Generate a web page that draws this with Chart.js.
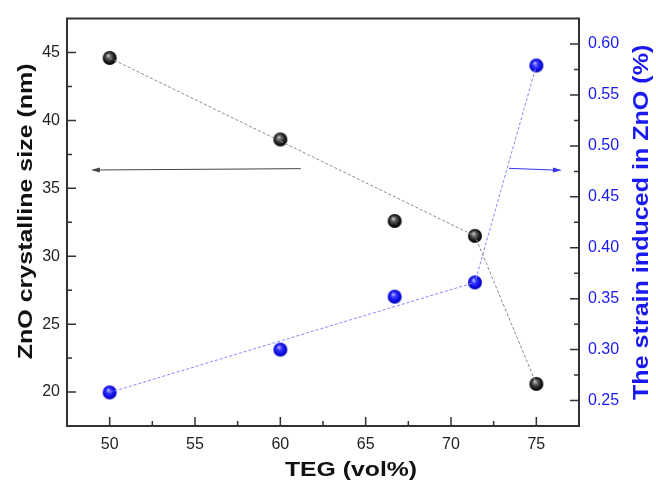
<!DOCTYPE html>
<html>
<head>
<meta charset="utf-8">
<script src="https://cdn.jsdelivr.net/npm/chart.js@4/dist/chart.umd.min.js"></script>
<style>
  body { margin: 0; background: #fff; }
</style>
</head>
<body>
<canvas id="myChart" width="656" height="483"></canvas>
<script>
// data
const tegVol = [50, 60, 66.7, 71.4, 75];
const crystalSize = [44.6, 38.6, 32.6, 31.5, 20.6];
const strain = [0.258, 0.3, 0.352, 0.366, 0.579];
// the dashed guide lines only join these points (by index)
const guidePoints = [0, 3, 4];

const xTicks = [50, 55, 60, 65, 70, 75];
const xMinor = [52.5, 57.5, 62.5, 67.5, 72.5];
const sizeTicks = [20, 25, 30, 35, 40, 45];
const sizeMinor = [22.5, 27.5, 32.5, 37.5, 42.5];
const strainTicks = [0.25, 0.3, 0.35, 0.4, 0.45, 0.5, 0.55, 0.6];
const strainMinor = [0.275, 0.325, 0.375, 0.425, 0.475, 0.525, 0.575];

// arrows, in data units: [x, y] on the axis they point to
const sizeArrow = { from: [61.2, 36.45], to: [48.9, 36.35] };
const strainArrow = { from: [73.4, 0.478], to: [76.5, 0.476] };

const FONT = "'Liberation Sans', Arial, sans-serif";
const BLUE = "#1a1af0";

function makeBall(c0, c1, c2, c3) {
  let cv = document.createElement("canvas");
  cv.width = 16;
  cv.height = 16;
  let c = cv.getContext("2d");
  let g = c.createRadialGradient(6.5, 5.5, 0, 8, 8, 8);
  g.addColorStop(0, c0);
  g.addColorStop(0.3, c1);
  g.addColorStop(0.7, c2);
  g.addColorStop(1, c3);
  c.fillStyle = g;
  c.beginPath();
  c.arc(8, 8, 7, 0, Math.PI * 2);
  c.fill();
  return cv;
}

const blackBall = makeBall("#d8d8d8", "#606060", "#141414", "#000");
const blueBall = makeBall("#d0d0ff", "#3a3aff", "#0a0ae0", "#00008c");

function setTicks(list) {
  return (scale) => {
    scale.ticks = list.map((v) => ({ value: v }));
  };
}

function points(ys, idx) {
  let out = [];
  tegVol.forEach((x, i) => {
    if (!idx || idx.includes(i)) out.push({ x: x, y: ys[i] });
  });
  return out;
}

const extras = {
  id: "extras",
  afterDraw(chart) {
    let ctx = chart.ctx;
    let a = chart.chartArea;
    let sx = chart.scales.x;
    let sy = chart.scales.y;
    let sy2 = chart.scales.y2;

    ctx.save();
    // top frame line
    ctx.strokeStyle = "#333";
    ctx.lineWidth = 2;
    ctx.beginPath();
    ctx.moveTo(a.left - 1, a.top);
    ctx.lineTo(a.right + 1, a.top);
    ctx.stroke();

    // inward tick marks
    ctx.lineWidth = 1.5;
    ctx.beginPath();
    xTicks.concat(xMinor).forEach((v) => {
      let len = xTicks.includes(v) ? 9 : 5;
      let px = sx.getPixelForValue(v);
      ctx.moveTo(px, a.bottom);
      ctx.lineTo(px, a.bottom - len);
    });
    sizeTicks.concat(sizeMinor).forEach((v) => {
      let len = sizeTicks.includes(v) ? 9 : 5;
      let py = sy.getPixelForValue(v);
      ctx.moveTo(a.left, py);
      ctx.lineTo(a.left + len, py);
    });
    strainTicks.concat(strainMinor).forEach((v) => {
      let len = strainTicks.includes(v) ? 9 : 5;
      let py = sy2.getPixelForValue(v);
      ctx.moveTo(a.right, py);
      ctx.lineTo(a.right - len, py);
    });
    ctx.stroke();

    // arrows
    drawArrow(ctx, sx, sy, sizeArrow, "#444");
    drawArrow(ctx, sx, sy2, strainArrow, "#3535e8");

    // axis titles
    ctx.fillStyle = "#111";
    ctx.textAlign = "center";
    ctx.textBaseline = "alphabetic";
    ctx.font = "bold 21px " + FONT;
    ctx.save();
    ctx.translate((a.left + a.right) / 2 + 28, chart.height - 7.5);
    ctx.scale(1.18, 1);
    ctx.fillText("TEG (vol%)", 0, 0);
    ctx.restore();

    ctx.save();
    ctx.translate(32, (a.top + a.bottom) / 2 - 11);
    ctx.rotate(-Math.PI / 2);
    ctx.scale(1.19, 1);
    ctx.fillText("ZnO crystalline size (nm)", 0, 0);
    ctx.restore();

    ctx.save();
    ctx.fillStyle = BLUE;
    ctx.font = "bold 22px " + FONT;
    ctx.translate(648, (a.top + a.bottom) / 2);
    ctx.rotate(-Math.PI / 2);
    ctx.scale(1.14, 1);
    ctx.fillText("The strain induced in ZnO (%)", 0, 0);
    ctx.restore();

    ctx.restore();
  },
};

function drawArrow(ctx, sx, sy, arr, color) {
  let x1 = sx.getPixelForValue(arr.from[0]);
  let y1 = sy.getPixelForValue(arr.from[1]);
  let x2 = sx.getPixelForValue(arr.to[0]);
  let y2 = sy.getPixelForValue(arr.to[1]);
  let ang = Math.atan2(y2 - y1, x2 - x1);
  ctx.strokeStyle = color;
  ctx.fillStyle = color;
  ctx.lineWidth = 1;
  ctx.beginPath();
  ctx.moveTo(x1, y1);
  ctx.lineTo(x2 - 6 * Math.cos(ang), y2 - 6 * Math.sin(ang));
  ctx.stroke();
  ctx.beginPath();
  ctx.moveTo(x2, y2);
  ctx.lineTo(x2 - 9 * Math.cos(ang) + 2.5 * Math.sin(ang), y2 - 9 * Math.sin(ang) - 2.5 * Math.cos(ang));
  ctx.lineTo(x2 - 9 * Math.cos(ang) - 2.5 * Math.sin(ang), y2 - 9 * Math.sin(ang) + 2.5 * Math.cos(ang));
  ctx.closePath();
  ctx.fill();
}

var ctx = document.getElementById("myChart").getContext("2d");

var myChart = new Chart(ctx, {
  type: "line",
  data: {
    datasets: [
      {
        label: "size guide",
        data: points(crystalSize, guidePoints),
        yAxisID: "y",
        borderColor: "#8a8a8a",
        borderWidth: 1,
        borderDash: [3, 2],
        pointRadius: 0,
      },
      {
        label: "strain guide",
        data: points(strain, guidePoints),
        yAxisID: "y2",
        borderColor: "#8585ff",
        borderWidth: 1,
        borderDash: [3, 2],
        pointRadius: 0,
      },
      {
        label: "crystalline size",
        data: points(crystalSize),
        yAxisID: "y",
        showLine: false,
        pointStyle: blackBall,
        pointRadius: 7,
      },
      {
        label: "strain",
        data: points(strain),
        yAxisID: "y2",
        showLine: false,
        pointStyle: blueBall,
        pointRadius: 7,
      },
    ],
  },
  options: {
    responsive: false,
    animation: false,
    layout: { padding: { top: 13, left: 0, right: 0, bottom: 0 } },
    plugins: {
      legend: { display: false },
      tooltip: { enabled: false },
    },
    scales: {
      x: {
        type: "linear",
        min: 47.5,
        max: 77.5,
        afterBuildTicks: setTicks(xTicks),
        afterFit: (s) => {
          s.height = 57;
        },
        grid: { display: false, drawTicks: false },
        border: { display: true, color: "#333", width: 2 },
        ticks: { padding: 9, color: "#222", font: { family: FONT, size: 16 } },
      },
      y: {
        position: "left",
        min: 17.5,
        max: 47.5,
        afterBuildTicks: setTicks(sizeTicks),
        afterFit: (s) => {
          s.width = 67;
        },
        grid: { display: false, drawTicks: false },
        border: { display: true, color: "#333", width: 2 },
        ticks: { padding: 7, color: "#222", font: { family: FONT, size: 16 } },
      },
      y2: {
        position: "right",
        min: 0.225,
        max: 0.625,
        afterBuildTicks: setTicks(strainTicks),
        afterFit: (s) => {
          s.width = 77;
        },
        grid: { display: false, drawTicks: false },
        border: { display: true, color: "#333", width: 2 },
        ticks: {
          padding: 9,
          color: BLUE,
          font: { family: FONT, size: 16 },
          callback: (v) => v.toFixed(2),
        },
      },
    },
  },
  plugins: [extras],
});
</script>
</body>
</html>
